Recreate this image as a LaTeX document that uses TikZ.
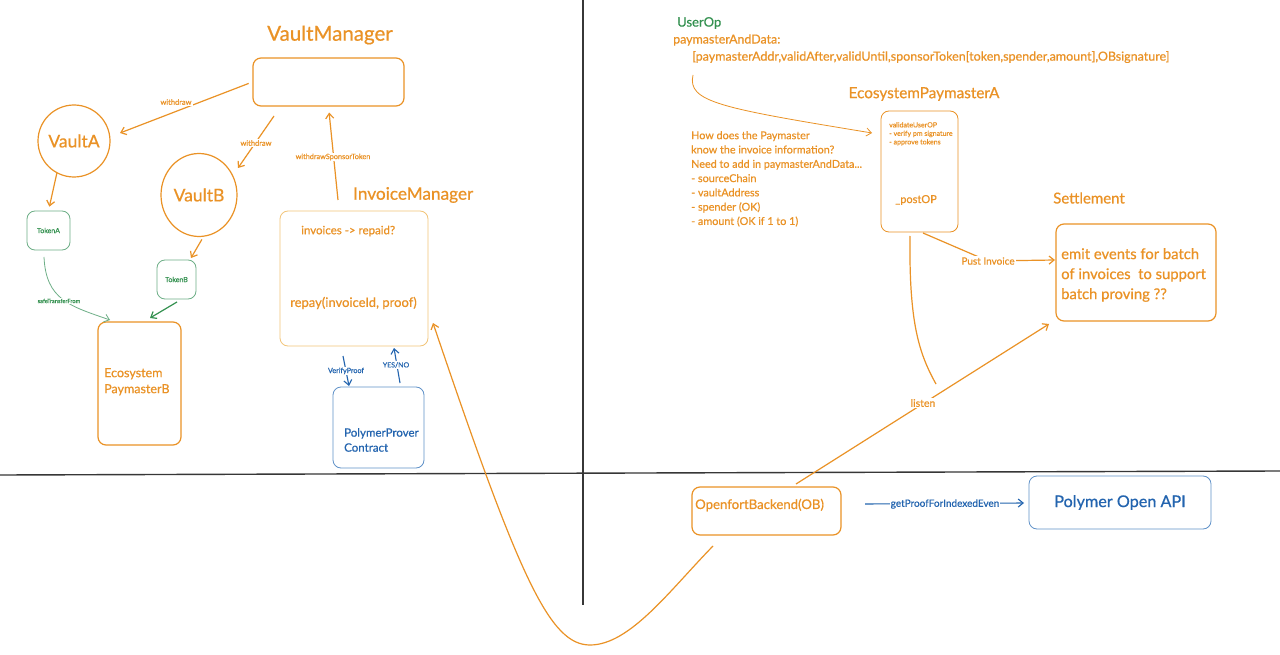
\documentclass[tikz,border=0pt]{standalone}
\usepackage{fontspec}
\setmainfont{Lato}[RawFeature={embolden=0.6}]
\usetikzlibrary{arrows.meta,shapes.geometric}
\definecolor{org}{RGB}{234,146,38}
\definecolor{lorg}{RGB}{242,196,120}
\definecolor{grn}{RGB}{52,145,80}
\definecolor{lgrn}{RGB}{110,175,135}
\definecolor{blu}{RGB}{35,100,175}
\definecolor{lblu}{RGB}{95,145,200}
\definecolor{axiscol}{RGB}{55,55,55}
\newcommand{\myfs}[2]{\fontsize{#1}{#2}\selectfont}
\tikzset{
  box/.style={draw, rounded corners=8pt, inner sep=0pt, line width=1.2pt},
  thinbox/.style={draw, rounded corners=8pt, inner sep=0pt, line width=0.8pt},
  otext/.style={text=org, inner sep=0pt},
  lbl/.style={fill=white, inner sep=1pt},
  tip/.style={-{Straight Barb[length=5pt,width=8pt]}},
  oarr/.style={tip, draw=org, line width=1.2pt},
  garr/.style={tip, draw=grn, line width=1.2pt},
  barr/.style={tip, draw=blu, line width=1.1pt},
}
\begin{document}
\begin{tikzpicture}[x=1pt,y=-1pt]
\useasboundingbox (0,0) rectangle (1280,655);
\fill[white] (0,0) rectangle (1280,655);

% axes
\coordinate (axT) at (583,0);
\coordinate (axB) at (583,605);
\coordinate (axL) at (0,475);
\coordinate (axR) at (1280,471);
\draw[axiscol, line width=1.4pt] (axT) -- (axB);
\draw[axiscol, line width=1.4pt] (axL) -- (axR);

% ---------- left part ----------
\node[otext, font=\myfs{20.5}{24}] (vmt) at (330,35) {VaultManager};
\node[box, draw=org, minimum width=151pt, minimum height=48pt] (vm) at (328.5,82) {};
\node[circle, draw=org, line width=1.2pt, minimum size=72pt, inner sep=0pt, text=org, font=\myfs{17.5}{20}] (va) at (74,141) {VaultA};
\node[ellipse, draw=org, line width=1.2pt, minimum width=76pt, minimum height=83pt, inner sep=0pt, text=org, font=\myfs{17.5}{20}] (vb) at (199,195) {VaultB};
\node[thinbox, draw=lgrn, minimum width=43pt, minimum height=39pt, text=grn, font=\myfs{7}{8}] (ta) at (48.5,230.5) {TokenA};
\node[thinbox, draw=lgrn, minimum width=39pt, minimum height=39pt, text=grn, font=\myfs{7}{8}] (tb) at (176.5,279.5) {TokenB};
\node[box, draw=org, minimum width=83pt, minimum height=123pt] (epb) at (139.5,383.5) {};
\node[otext, anchor=north west, align=left, font=\myfs{12.5}{16}] (epbt) at (104,368) {Ecosystem\\PaymasterB};

\node[otext, anchor=west, font=\myfs{17.2}{20}] (imt) at (353,195) {InvoiceManager};
\node[thinbox, draw=lorg, minimum width=148pt, minimum height=135pt] (im) at (354,278.5) {};
\node[otext, anchor=west, font=\myfs{11.5}{13}] (imq) at (301,231) {invoices -> repaid?};
\node[otext, anchor=west, font=\myfs{13}{15}] (imr) at (290,303) {repay(invoiceId, proof)};

\node[thinbox, draw=lblu, minimum width=91pt, minimum height=81pt] (pp) at (378.5,427.5) {};
\node[text=blu, inner sep=0pt, anchor=north west, align=left, font=\myfs{11.5}{15}] (ppt) at (344,428) {PolymerProver\\Contract};

% left connectors
\coordinate (w1b) at (120,133);
\draw[oarr, shorten <=4pt] (vm.west) -- (w1b);
\node[lbl, text=org, font=\myfs{7.5}{8}] (w1l) at (176,102) {withdraw};

\coordinate (w2a) at (274,116);
\coordinate (w2b) at (238,168);
\draw[oarr] (w2a) -- (w2b);
\node[lbl, text=org, font=\myfs{7.5}{8}] (w2l) at (256,143) {withdraw};

\coordinate (wsa) at (338,200);
\draw[oarr, shorten >=6pt] (wsa) -- (vm.south);
\node[lbl, text=org, font=\myfs{7.3}{8}] (wsl) at (333,157) {withdrawSponsorToken};

\draw[oarr, shorten >=4pt] (va.-118) -- (ta.north);

\coordinate (tbtip) at (191,258);
\draw[oarr, shorten <=3pt] (vb.-84) -- (tbtip);

\coordinate (sfa) at (44,257);
\coordinate (sfb) at (110,320);
\draw[tip, draw=lgrn, line width=0.8pt] (sfa) .. controls (46,300) and (70,306) .. (sfb);
\node[lbl, text=grn, font=\myfs{5.7}{7}] (sfl) at (59,301) {safeTransferFrom};

\coordinate (tbs) at (177,302);
\coordinate (tbe) at (150,318);
\draw[garr] (tbs) -- (tbe);

\coordinate (vpa) at (343,356);
\coordinate (vpb) at (349,386);
\draw[barr] (vpa) -- (vpb);
\node[lbl, text=blu, font=\myfs{7.2}{8}] (vpl) at (346,371) {VerifyProof};

\coordinate (yna) at (400,383);
\coordinate (ynb) at (394,348);
\draw[barr] (yna) -- (ynb);
\node[lbl, text=blu, font=\myfs{7}{8}] (ynl) at (396,365) {YES/NO};

% ---------- right part ----------
\node[text=grn, anchor=west, inner sep=0pt, font=\myfs{13}{15}] (uo) at (677,23) {UserOp};
\node[otext, anchor=west, font=\myfs{12.4}{14}] (pad) at (673,40) {paymasterAndData:};
\node[otext, anchor=west, font=\myfs{12.5}{14}] (pal) at (692,57) {[paymasterAddr,validAfter,validUntil,sponsorToken[token,spender,amount],OBsignature]};

\node[otext, font=\myfs{15.3}{17}] (epat) at (924,94) {EcosystemPaymasterA};
\node[thinbox, draw=org, minimum width=77pt, minimum height=121pt] (epa) at (919.5,171.5) {};
\node[otext, anchor=north west, align=left, font=\myfs{7}{8.5}] (epav) at (889,122) {validateUserOP\\- verify pm signature\\- approve tokens};
\node[otext, anchor=west, font=\myfs{11}{13}] (epap) at (895,200) {\_postOP};

\node[otext, anchor=north west, align=left, font=\myfs{10.8}{14.3}] (q) at (691,131) {How does the Paymaster\\know the invoice information?\\Need to add in paymasterAndData...\\- sourceChain\\- vaultAddress\\- spender (OK)\\- amount (OK if 1 to 1)};

\node[otext, font=\myfs{15}{17}] (stt) at (1089,198) {Settlement};
\node[box, draw=org, minimum width=160pt, minimum height=97pt] (st) at (1136,272.5) {};
\node[otext, anchor=north west, align=left, font=\myfs{14.8}{20}] (stx) at (1061,248) {emit events for batch\\of invoices\ \ to support\\batch proving ??};

\node[box, draw=org, minimum width=149pt, minimum height=48pt] (ob) at (766.5,511) {};
\node[otext, anchor=west, font=\myfs{13.2}{15}] (obt) at (695,505) {OpenfortBackend(OB)};
\node[thinbox, draw=lblu, minimum width=182pt, minimum height=53pt, text=blu, font=\myfs{16.2}{18}] (api) at (1120,502.5) {Polymer Open API};

% right connectors
\coordinate (uoa) at (693,75);
\coordinate (uob) at (872,133);
\draw[tip, draw=org, line width=0.8pt] (uoa) .. controls (687,102) and (720,108) .. (uob);

\coordinate (pia) at (923,233);
\coordinate (pib) at (1055,260);
\draw[oarr] (pia) -- (988,261) -- (pib);
\node[lbl, text=org, font=\myfs{10}{11}] (pil) at (988,261) {Pust Invoice};

\coordinate (lsa) at (910,236);
\coordinate (lsb) at (936,384);
\draw[org, line width=1.2pt] (lsa) .. controls (909,320) and (918,352) .. (lsb);

\coordinate (lna) at (796,484);
\coordinate (lnb) at (1049,324);
\draw[oarr] (lna) -- (lnb);
\node[lbl, text=org, font=\myfs{10.5}{11}] (lnl) at (923,403) {listen};

\coordinate (gpa) at (865,504);
\coordinate (gpb) at (1024,503);
\draw[barr] (gpa) -- (gpb);
\node[lbl, text=blu, font=\myfs{10}{11}] (gpl) at (945,504) {getProofForIndexedEven};

% big curve
\coordinate (bca) at (713,546);
\coordinate (bcm) at (590,645);
\coordinate (bcb) at (433,323);
\draw[tip, draw=org, line width=1.2pt] (bca) .. controls (670,590) and (630,645) .. (bcm) .. controls (550,645) and (520,580) .. (bcb);
\end{tikzpicture}
\end{document}
